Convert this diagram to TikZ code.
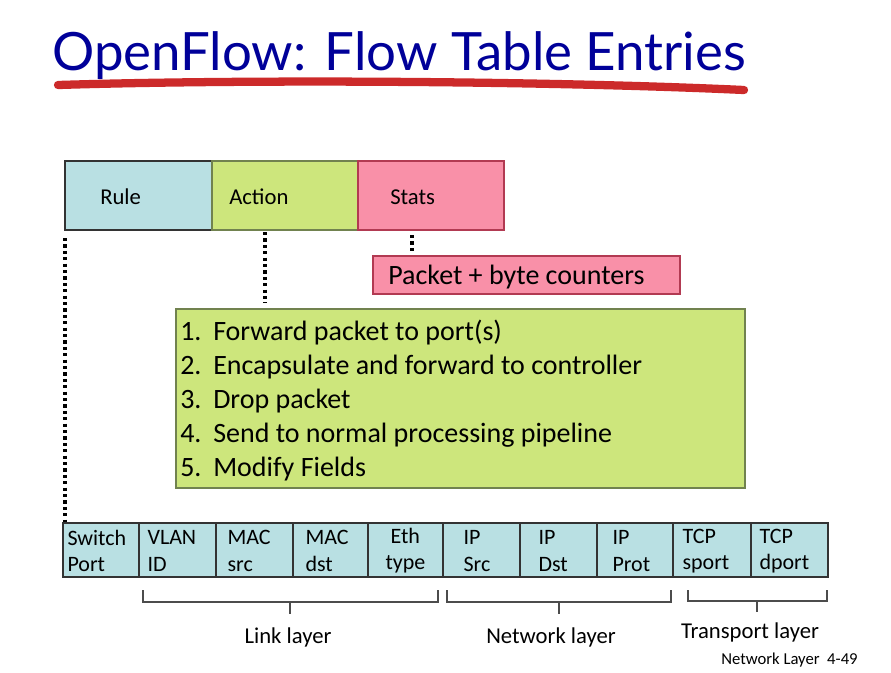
\documentclass[tikz,border=0pt]{standalone}
\usepackage{fontspec}
\setmainfont{Carlito}
\newfontfamily\titlefont{Lato}
\usetikzlibrary{calc,fit}

\definecolor{ruleblue}{HTML}{B9E0E3}
\definecolor{actgreen}{HTML}{CDE67C}
\definecolor{statpink}{HTML}{F990A8}
\definecolor{titleblue}{HTML}{000099}
\definecolor{penred}{HTML}{CC2A2A}
\definecolor{greenedge}{HTML}{71824F}
\definecolor{pinkedge}{HTML}{B23A52}
\definecolor{celledge}{HTML}{333333}

\tikzset{
  box/.style={inner sep=0pt, line width=1.1pt},
  rulebox/.style={box, draw=celledge, fill=ruleblue},
  actbox/.style={box, draw=greenedge, fill=actgreen},
  statbox/.style={box, draw=pinkedge, fill=statpink},
  boxtext/.style={anchor=west, inner sep=0pt, font=\fontsize{17}{20}\selectfont},
  celltext/.style={anchor=west, inner sep=0pt, align=left, font=\fontsize{16.5}{20}\selectfont},
  bigtext/.style={inner sep=0pt, font=\fontsize{21}{25.5}\selectfont},
  dots/.style={line width=2.6pt, dash pattern=on 2.4pt off 2.4pt},
  bracket/.style={draw=black!70, line width=0.8pt},
  layertext/.style={anchor=base, inner sep=0pt, font=\fontsize{17}{20}\selectfont}
}

\begin{document}
\begin{tikzpicture}[x=0.75pt,y=-0.75pt]
\useasboundingbox (0,0) rectangle (891,672);

% title with hand-drawn underline
\node[anchor=base west, inner sep=0pt, text=titleblue,
      font=\titlefont\fontsize{39.6}{44}\selectfont] (title) at (52,70) {OpenFlow: Flow Table Entries};
\coordinate (ul1) at (58,85);
\coordinate (ul2) at (744,90);
\draw[penred, line width=6.2pt, line cap=round] (ul1) .. controls (250,79) and (550,81) .. (ul2);

% flow table entry: rule / action / stats
\node[rulebox, fit={(65,161) (212,230)}] (rule) {};
\node[actbox, fit={(212,161) (358,230)}] (action) {};
\node[statbox, fit={(358,161) (504,230)}] (stats) {};
\node[boxtext] (ruletxt) at (100,197) {Rule};
\node[boxtext] (acttxt) at (229,197) {Action};
\node[boxtext] (stattxt) at (390,197) {Stats};

% stats detail
\node[statbox, fit={(373,256) (680,294)}] (counters) {};
\node[bigtext, anchor=west] (countertxt) at (388,277) {Packet + byte counters};

% action list
\node[actbox, fit={(176,309) (745,488)}] (actions) {};
\node[bigtext, anchor=north west, align=left] (actlist) at (180,320) {%
\makebox[24.75pt][l]{1.}Forward packet to port(s)\\
\makebox[24.75pt][l]{2.}Encapsulate and forward to controller\\
\makebox[24.75pt][l]{3.}Drop packet\\
\makebox[24.75pt][l]{4.}Send to normal processing pipeline\\
\makebox[24.75pt][l]{5.}Modify Fields};

% header fields of the rule
\foreach \i/\xa/\xb/\pad/\txt in {
  1/63/139/5/{Switch\\Port},
  2/139/216/9/{VLAN\\ID},
  3/216/293/12/{MAC\\src},
  4/293/368/13/{MAC\\dst},
  5/368/443/18/{\raisebox{3pt}{\ Eth}\\\raisebox{3pt}{type}},
  6/443/520/21/{IP\\Src},
  7/520/597/19/{IP\\Dst},
  8/597/673/16/{IP\\Prot},
  9/673/751/10/{TCP\\sport},
  10/751/828/9/{TCP\\dport}}{
  \node[rulebox, fit={(\xa,523) (\xb,577)}] (c\i) {};
  \node[celltext] (l\i) at ($(c\i.west)+(\pad,1)$) {\txt};
}

% dotted pointers
\coordinate (rd) at (65,238);
\draw[dots] (rd) -- (rd |- c1.north);
\coordinate (ad1) at (265,232);
\coordinate (ad2) at (265,303);
\draw[dots] (ad1) -- (ad2);
\coordinate (sd1) at (412,235);
\coordinate (sd2) at (412,254);
\draw[dots] (sd1) -- (sd2);

% layer brackets
\coordinate (lb1) at (143,590); \coordinate (lb2) at (438,590); \coordinate (lbm) at (290,602);
\coordinate (nb1) at (447,590); \coordinate (nb2) at (671,590); \coordinate (nbm) at (559,602);
\coordinate (tb1) at (688,590); \coordinate (tb2) at (827,590); \coordinate (tbm) at (757,601);
\draw[bracket] (lb1) -- (lb1 |- lbm) -- (lb2 |- lbm) -- (lb2);
\draw[bracket] (lbm) -- ++(0,12);
\draw[bracket] (nb1) -- (nb1 |- nbm) -- (nb2 |- nbm) -- (nb2);
\draw[bracket] (nbm) -- ++(0,12);
\draw[bracket] (tb1) -- (tb1 |- tbm) -- (tb2 |- tbm) -- (tb2);
\draw[bracket] (tbm) -- ++(0,11);

\node[layertext] (link) at (288,643) {Link layer};
\node[layertext] (net) at (551,643) {Network layer};
\node[layertext] (trans) at (750,638) {Transport layer};

\node[anchor=base west, inner sep=0pt, font=\fontsize{12.5}{15}\selectfont] (pagenum) at (721,664) {Network Layer\ \ 4-49};
\end{tikzpicture}
\end{document}
